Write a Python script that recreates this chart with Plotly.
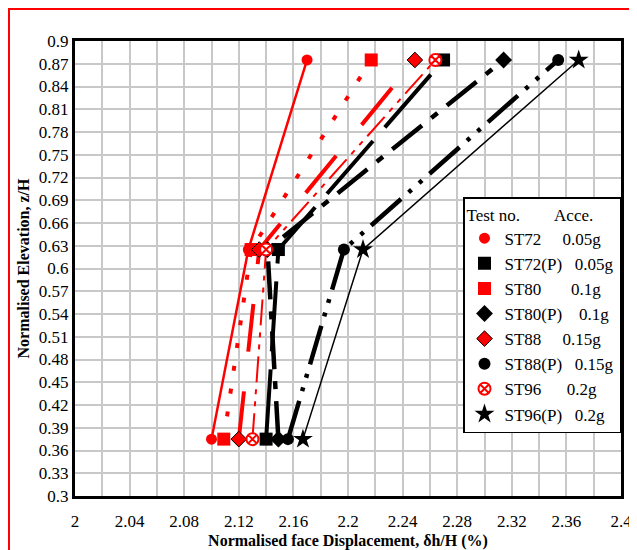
import plotly.graph_objects as go

elev = [0.375, 0.625, 0.875]
names = ["ST72", "ST72(P)", "ST80", "ST80(P)", "ST88", "ST88(P)", "ST96", "ST96(P)"]
accel = ["0.05g", "0.05g", "0.1g", "0.1g", "0.15g", "0.15g", "0.2g", "0.2g"]
st72 = [2.100, 2.127, 2.170]
st72p = [2.140, 2.149, 2.270]
st80 = [2.109, 2.129, 2.217]
st80p = [2.149, 2.141, 2.314]
st88 = [2.120, 2.135, 2.249]
st88p = [2.156, 2.197, 2.354]
st96 = [2.130, 2.140, 2.264]
st96p = [2.167, 2.211, 2.369]
series = [st72, st72p, st80, st80p, st88, st88p, st96, st96p]
x_ticks = [2.0, 2.04, 2.08, 2.12, 2.16, 2.2, 2.24, 2.28, 2.32, 2.36, 2.4]
x_tick_text = ["2", "2.04", "2.08", "2.12", "2.16", "2.2", "2.24", "2.28", "2.32", "2.36", "2.4"]

RED = "#ff0000"
BLK = "#000000"
line_styles = [
    dict(color=RED, width=2.5, dash="solid"),
    dict(color=BLK, width=4, dash="70px,18px"),
    dict(color=RED, width=4, dash="5px,18px"),
    dict(color=BLK, width=4.5, dash="38px,12px,8px,12px"),
    dict(color=RED, width=4, dash="48px,40px"),
    dict(color=BLK, width=4.5, dash="40px,10px,4px,10px,4px,10px"),
    dict(color=RED, width=2, dash="26px,7px,5px,7px,5px,7px"),
    dict(color=BLK, width=1.5, dash="solid"),
]
markers = [
    dict(symbol="circle", size=11, color=RED),
    dict(symbol="square", size=13, color=BLK),
    dict(symbol="square", size=13, color=RED),
    dict(symbol="diamond", size=13, color=BLK),
    dict(symbol="diamond", size=12, color=RED, line=dict(color=BLK, width=1)),
    dict(symbol="circle", size=12, color=BLK),
    dict(symbol="circle-x", size=12, color="white", line=dict(color=RED, width=2)),
    dict(symbol="star", size=15, color=BLK),
]
gaps = [5, 3, 7, 4, 5, 3, 6, 3]

fig = go.Figure()
for s, ls in zip(series, line_styles):
    fig.add_trace(go.Scatter(x=s, y=elev, mode="lines", line=ls,
                             showlegend=False, hoverinfo="skip"))
NB = "\u00a0"
for s, n, a, mk, g in zip(series, names, accel, markers, gaps):
    fig.add_trace(go.Scatter(x=s, y=elev, mode="markers", marker=mk,
                             name=n + NB * g + a))

FONT = "Liberation Serif"
fig.update_layout(
    width=629, height=542,
    margin=dict(l=67, r=16, t=33, b=54),
    paper_bgcolor="white", plot_bgcolor="white",
    font=dict(family=FONT, size=17, color="black"),
    showlegend=True,
    legend=dict(
        x=1, xanchor="right", y=0.657, yanchor="top",
        bgcolor="white", bordercolor="black", borderwidth=1.5,
        font=dict(family=FONT, size=17),
        title=dict(text="Test no." + NB * 8 + "Acce.", font=dict(family=FONT, size=17)),
        itemwidth=30, tracegroupgap=0,
    ),
    xaxis=dict(
        range=[2, 2.4], tickmode="array", tickvals=x_ticks, ticktext=x_tick_text,
        showgrid=True, gridcolor="#c8c8c8", gridwidth=1.5,
        minor=dict(dtick=0.02, tick0=2, showgrid=True, gridcolor="#c8c8c8", gridwidth=1.5),
        showline=True, linecolor="black", linewidth=3, mirror=True,
        ticks="", zeroline=False, tickfont=dict(family=FONT, size=17),
        ticklabelstandoff=8, automargin=False, ticklabeloverflow="allow",
        title=dict(text="<b>Normalised face Displacement, δh/H (%)</b>",
                   font=dict(family=FONT, size=16), standoff=8),
    ),
    yaxis=dict(
        range=[0.3, 0.9], tick0=0.3, dtick=0.03, showgrid=True,
        gridcolor="#c8c8c8", gridwidth=1.5,
        showline=True, linecolor="black", linewidth=3, mirror=True,
        ticks="", zeroline=False, tickfont=dict(family=FONT, size=17),
        automargin=False, ticklabeloverflow="allow",
        title=dict(text="<b>Normalised Elevation, z/H</b>",
                   font=dict(family=FONT, size=16), standoff=6),
    ),
    shapes=[dict(type="rect", xref="paper", yref="paper",
                 x0=-0.1209, x1=1.06, y0=-0.2, y1=1.0703,
                 line=dict(color=RED, width=2), fillcolor="rgba(0,0,0,0)", layer="above")],
)

fig.write_html("out.html")
